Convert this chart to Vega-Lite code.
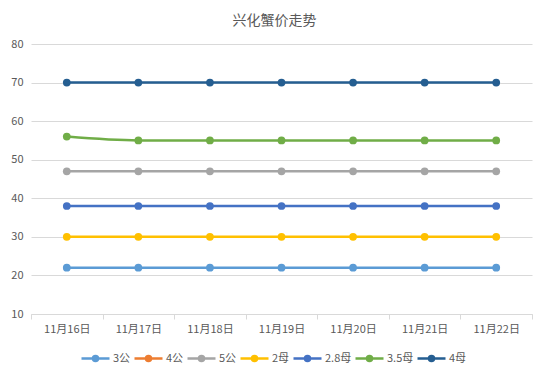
{
  "$schema": "https://vega.github.io/schema/vega-lite/v6.json",
  "width": 501,
  "height": 270,
  "autosize": "none",
  "padding": {"left": 31, "top": 44, "right": 16, "bottom": 63},
  "background": "white",
  "title": {"text": "兴化蟹价走势", "fontSize": 14, "font": "Noto Sans CJK SC", "fontWeight": "normal", "color": "#595959", "offset": 10, "dx": -7},
  "data": {"values": [
    {"date": "11月16日", "series": "3公", "price": 22},
    {"date": "11月17日", "series": "3公", "price": 22},
    {"date": "11月18日", "series": "3公", "price": 22},
    {"date": "11月19日", "series": "3公", "price": 22},
    {"date": "11月20日", "series": "3公", "price": 22},
    {"date": "11月21日", "series": "3公", "price": 22},
    {"date": "11月22日", "series": "3公", "price": 22},
    {"date": "11月16日", "series": "5公", "price": 47},
    {"date": "11月17日", "series": "5公", "price": 47},
    {"date": "11月18日", "series": "5公", "price": 47},
    {"date": "11月19日", "series": "5公", "price": 47},
    {"date": "11月20日", "series": "5公", "price": 47},
    {"date": "11月21日", "series": "5公", "price": 47},
    {"date": "11月22日", "series": "5公", "price": 47},
    {"date": "11月16日", "series": "2母", "price": 30},
    {"date": "11月17日", "series": "2母", "price": 30},
    {"date": "11月18日", "series": "2母", "price": 30},
    {"date": "11月19日", "series": "2母", "price": 30},
    {"date": "11月20日", "series": "2母", "price": 30},
    {"date": "11月21日", "series": "2母", "price": 30},
    {"date": "11月22日", "series": "2母", "price": 30},
    {"date": "11月16日", "series": "2.8母", "price": 38},
    {"date": "11月17日", "series": "2.8母", "price": 38},
    {"date": "11月18日", "series": "2.8母", "price": 38},
    {"date": "11月19日", "series": "2.8母", "price": 38},
    {"date": "11月20日", "series": "2.8母", "price": 38},
    {"date": "11月21日", "series": "2.8母", "price": 38},
    {"date": "11月22日", "series": "2.8母", "price": 38},
    {"date": "11月16日", "series": "3.5母", "price": 56},
    {"date": "11月17日", "series": "3.5母", "price": 55},
    {"date": "11月18日", "series": "3.5母", "price": 55},
    {"date": "11月19日", "series": "3.5母", "price": 55},
    {"date": "11月20日", "series": "3.5母", "price": 55},
    {"date": "11月21日", "series": "3.5母", "price": 55},
    {"date": "11月22日", "series": "3.5母", "price": 55},
    {"date": "11月16日", "series": "4母", "price": 70},
    {"date": "11月17日", "series": "4母", "price": 70},
    {"date": "11月18日", "series": "4母", "price": 70},
    {"date": "11月19日", "series": "4母", "price": 70},
    {"date": "11月20日", "series": "4母", "price": 70},
    {"date": "11月21日", "series": "4母", "price": 70},
    {"date": "11月22日", "series": "4母", "price": 70}
  ]},
  "encoding": {
    "x": {"field": "date", "type": "ordinal", "sort": null, "title": null,
      "scale": {"type": "band", "paddingInner": 0, "paddingOuter": 0},
      "axis": {"labelAngle": 0, "tickBand": "extent", "domainColor": "#D9D9D9", "tickColor": "#D9D9D9", "tickSize": 5, "labelPadding": 4, "grid": false}},
    "y": {"field": "price", "type": "quantitative", "title": null,
      "scale": {"domain": [10, 80], "nice": false, "zero": false},
      "axis": {"values": [10, 20, 30, 40, 50, 60, 70, 80], "domain": false, "ticks": false, "gridColor": "#D9D9D9", "labelPadding": 8}},
    "color": {"field": "series", "type": "nominal", "title": null,
      "scale": {"domain": ["3公", "4公", "5公", "2母", "2.8母", "3.5母", "4母"],
        "range": ["#5B9BD5", "#ED7D31", "#A5A5A5", "#FFC000", "#4472C4", "#70AD47", "#255E91"]},
      "legend": {"orient": "none", "legendX": 53, "legendY": 303, "direction": "horizontal", "columns": 7, "gridAlign": "none",
        "symbolType": "M-1.4,0L1.4,0M-0.25,0A0.25,0.25,0,1,1,0.25,0A0.25,0.25,0,1,1,-0.25,0Z",
        "symbolSize": 400, "symbolStrokeWidth": 2.5, "labelOffset": 6, "columnPadding": -2,
        "encode": {"symbols": {"update": {"fill": {"scale": "color", "field": "value"}}}}}}
  },
  "mark": {"type": "line", "strokeWidth": 2.5, "interpolate": "monotone", "point": {"filled": true, "size": 60, "opacity": 1}},
  "config": {
    "font": "Noto Sans CJK SC",
    "view": {"stroke": null},
    "axis": {"labelFont": "Noto Sans CJK SC", "labelFontSize": 11, "labelColor": "#595959"},
    "legend": {"labelFont": "Noto Sans CJK SC", "labelFontSize": 11, "labelColor": "#595959"}
  }
}
